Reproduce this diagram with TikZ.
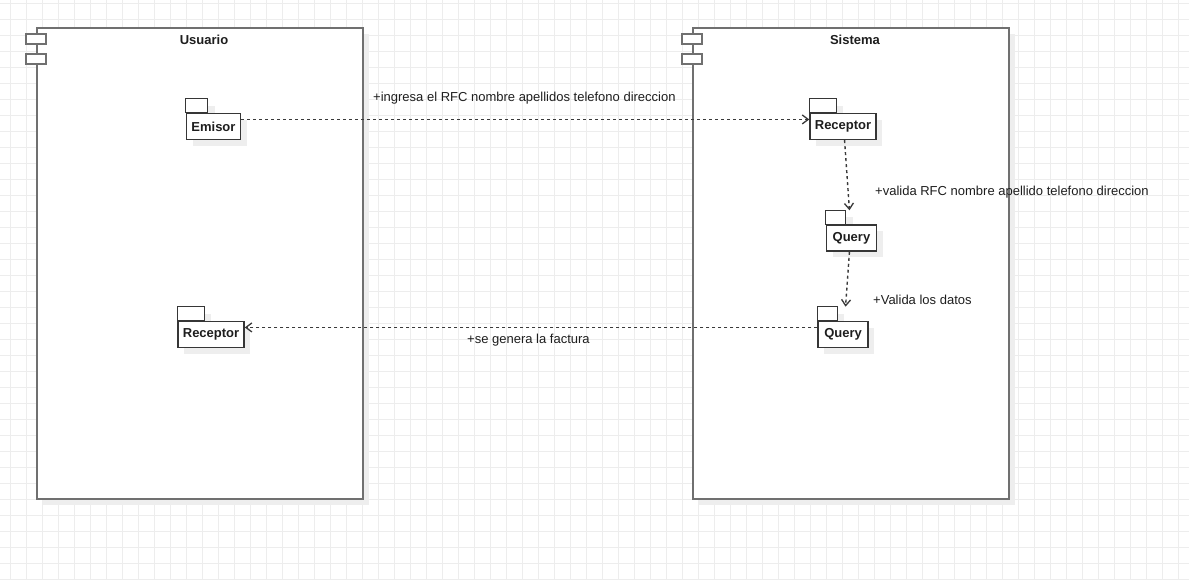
\documentclass[tikz,border=0pt]{standalone}
\usepackage{fontspec}
\setmainfont{Liberation Sans}
\usetikzlibrary{arrows.meta}
\definecolor{gridc}{HTML}{EDEDED}
\definecolor{shadowc}{HTML}{EEEEEE}
\definecolor{compc}{HTML}{707070}
\definecolor{pkgc}{HTML}{363636}
\definecolor{linec}{HTML}{3A3A3A}
\definecolor{txtc}{HTML}{1E1E1E}
\newcommand\pkgshape[6]{%
  \fill[shadowc] (#2+7,#3-7) rectangle ++(#5,14);
  \fill[shadowc] (#2+7,#3+7) rectangle ++(#4,26);
  \draw[pkgc,line width=1.5pt,fill=white] (#2,#3-14) rectangle ++(#5,14);
  \node[pkgbody,minimum width=#4,minimum height=26,anchor=north west] (#1) at (#2,#3) {#6};
}
\begin{document}
\begin{tikzpicture}[x=1pt,y=-1pt,
  comp/.style={draw=compc,line width=2pt,fill=white,inner sep=0pt,anchor=north west},
  comptab/.style={draw=compc,line width=2pt,fill=white},
  title/.style={font=\fontsize{13}{15}\selectfont\bfseries,text=txtc,inner sep=0pt},
  pkgbody/.style={draw=pkgc,line width=1.5pt,fill=white,inner sep=0pt,font=\fontsize{13}{15}\selectfont\bfseries,text=txtc},
  dep/.style={draw=linec,line width=1.4pt,dash pattern=on 3pt off 3pt,-{Straight Barb[length=6pt,width=9pt,line width=1.3pt]}},
  lbl/.style={font=\fontsize{13}{15}\selectfont,text=txtc,inner sep=0pt,anchor=west}
]
\useasboundingbox (0,0) rectangle (1189,580);
\fill[white] (0,0) rectangle (1189,580);
\foreach \x in {10.5,26.5,...,1189} \draw[gridc,line width=1pt] (\x,0) -- (\x,580);
\foreach \y in {3.5,19.5,...,580} \draw[gridc,line width=1pt] (0,\y) -- (1189,\y);

% components
\fill[shadowc] (43,34) rectangle (369,505);
\node[comp,minimum width=326,minimum height=471] (usuario) at (36,27) {};
\draw[comptab] (26,34) rectangle (46,44);
\draw[comptab] (26,54) rectangle (46,64);
\node[title] (usuarioT) at (204,39.5) {Usuario};

\fill[shadowc] (699,34) rectangle (1015,505);
\node[comp,minimum width=316,minimum height=471] (sistema) at (692,27) {};
\draw[comptab] (682,34) rectangle (702,44);
\draw[comptab] (682,54) rectangle (702,64);
\node[title] (sistemaT) at (855,39.5) {Sistema};

% packages
\pkgshape{emisor}{185.7}{112.7}{54}{22}{Emisor}
\pkgshape{recS}{809.3}{112.7}{66}{27}{Receptor}
\pkgshape{q1}{825.7}{224.3}{50}{20}{Query}
\pkgshape{q2}{817.3}{320.7}{50}{20}{Query}
\pkgshape{recU}{177.3}{320.7}{66}{27}{Receptor}

% connectors
\draw[dep] ([yshift=7pt]emisor.east) -- ([yshift=7pt]recS.west);
\draw[dep] ([xshift=1.5pt]recS.south) -- ([xshift=-2pt,yshift=14pt]q1.north);
\draw[dep] ([xshift=-2pt]q1.south) -- ([xshift=2.5pt,yshift=14pt]q2.north);
\draw[dep] ([yshift=7pt]q2.west) -- ([yshift=7pt]recU.east);

% labels
\node[lbl] (l1) at (373,98) {+ingresa el RFC nombre apellidos telefono direccion};
\node[lbl] (l2) at (875,192) {+valida RFC nombre apellido telefono direccion};
\node[lbl] (l3) at (873,300) {+Valida los datos};
\node[lbl] (l4) at (467,340) {+se genera la factura};
\end{tikzpicture}
\end{document}
